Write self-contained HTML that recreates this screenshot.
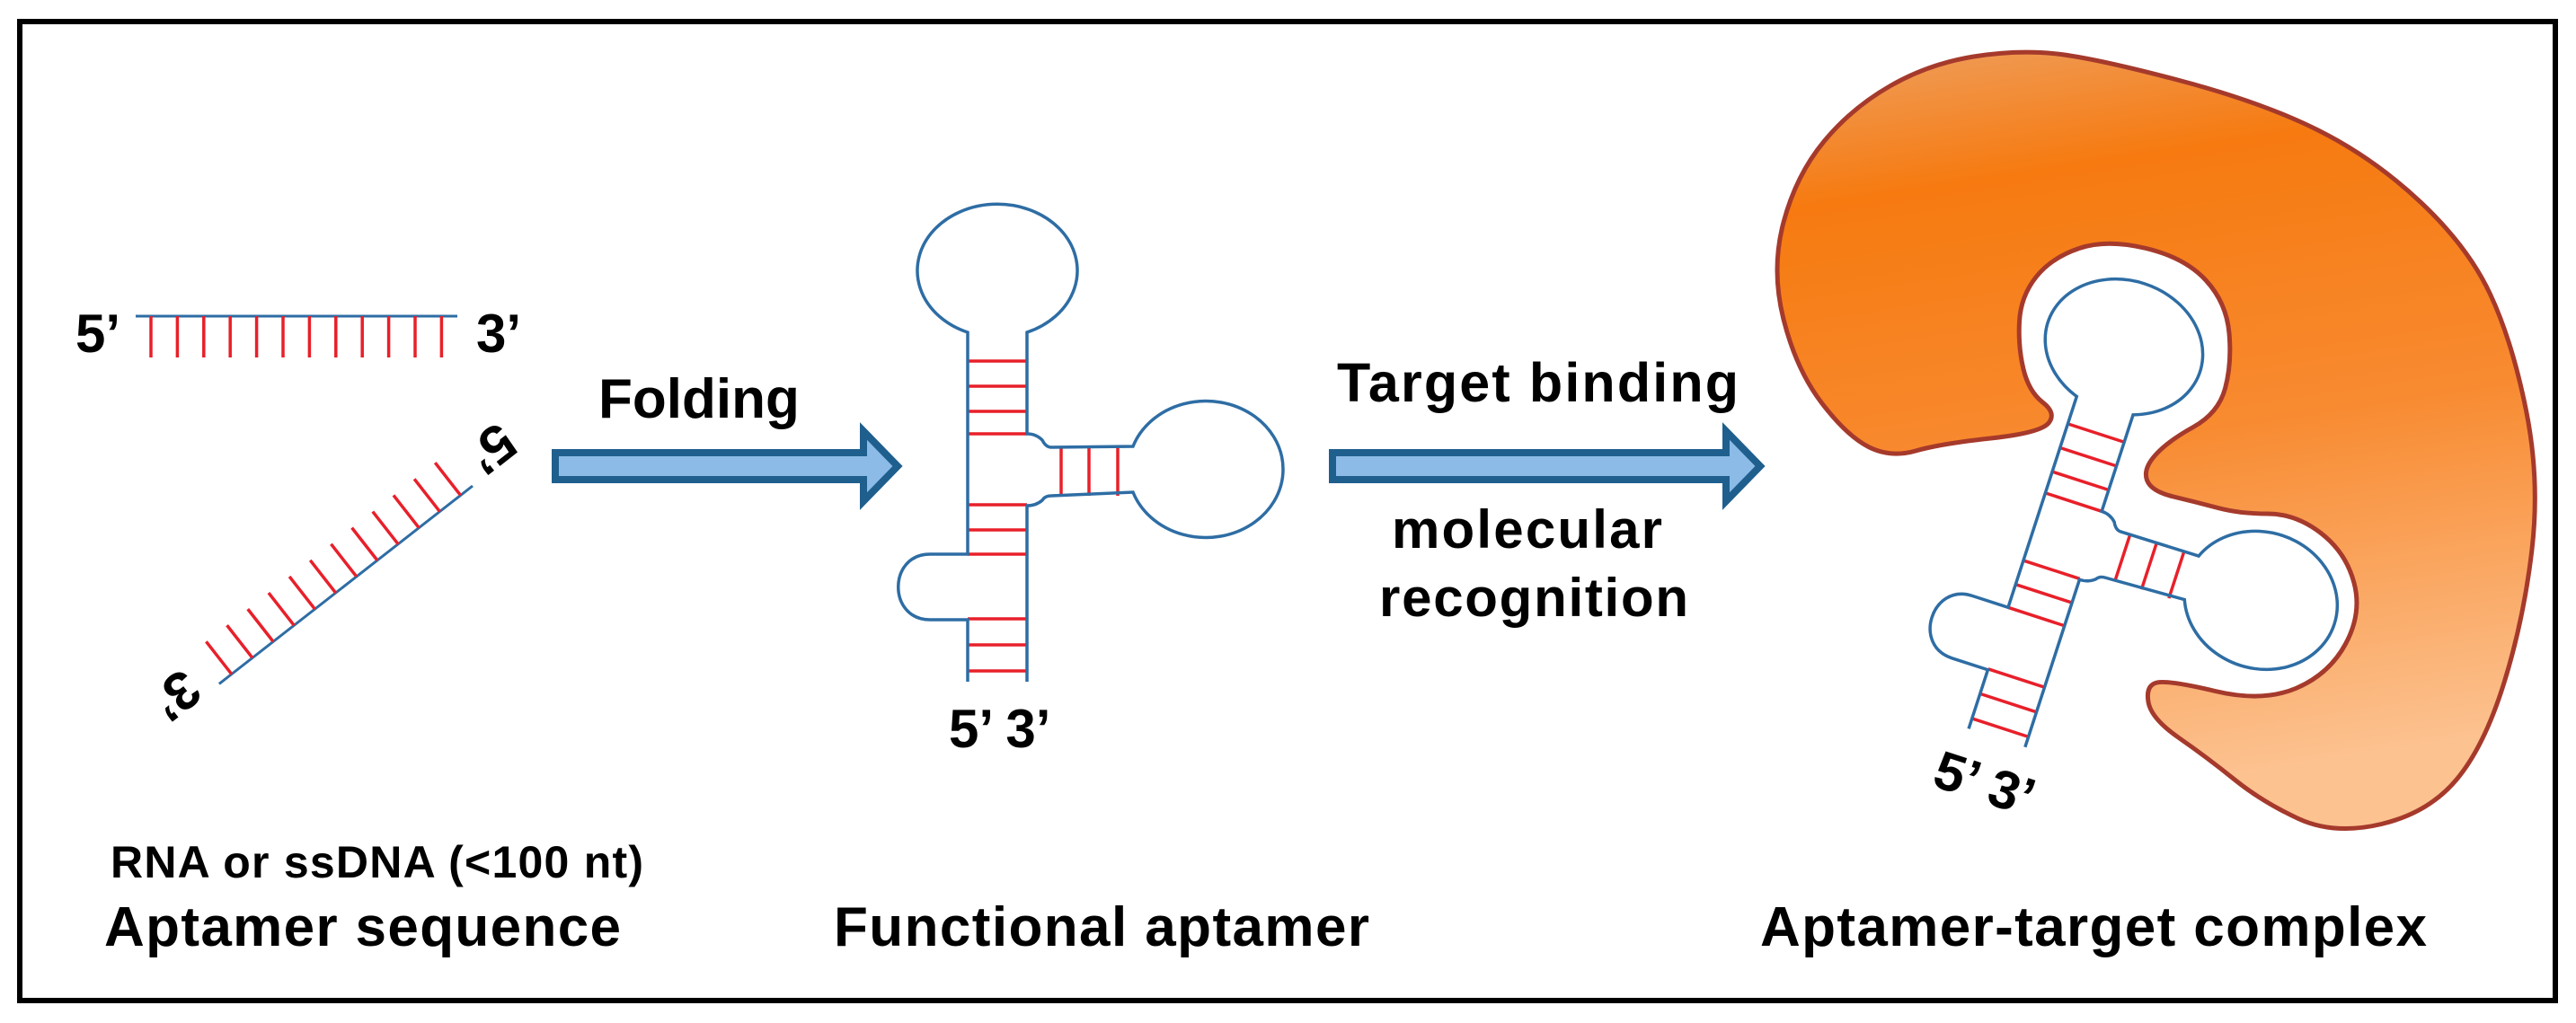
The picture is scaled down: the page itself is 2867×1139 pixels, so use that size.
<!DOCTYPE html>
<html><head><meta charset="utf-8"><style>html,body{margin:0;padding:0;background:#fff}svg{display:block}text{font-family:"Liberation Sans",Arial,sans-serif;font-weight:bold;fill:#000}</style></head>
<body>
<svg width="2867" height="1139" viewBox="0 0 2867 1139" xmlns="http://www.w3.org/2000/svg">
<defs>
<linearGradient id="og" x1="0" y1="0" x2="0.15" y2="1">
<stop offset="0" stop-color="#eea060"/>
<stop offset="0.2" stop-color="#f67a10"/>
<stop offset="0.55" stop-color="#f88a30"/>
<stop offset="1" stop-color="#fcc290"/>
</linearGradient>
<g id="apt" fill="none" stroke-width="3.5">
<g stroke="#e8202a">
<path d="M1077 402H1143M1077 430H1143M1077 458H1143M1077 483H1143M1077 562H1143M1077 590H1143M1077 617H1143M1077 689H1143M1077 718H1143M1077 747H1143M1181 498V552M1212 498V552M1244 498V552"/>
</g>
<g stroke="#2e6da4">
<path d="M1077 759L1077 690L1035 690C988 690 988 617 1035 617L1077 617L1077 370A89 74 0 1 1 1143 370L1143 483Q1153 483 1160 490Q1164 498 1170 498L1261 497A86 76 0 1 1 1261 548L1170 552Q1163 552 1160 557Q1153 563 1143 563L1143 759"/>
</g>
</g>
</defs>
<rect x="22" y="24" width="2822" height="1090" fill="none" stroke="#000" stroke-width="6"/>

<!-- top strand -->
<text x="84" y="392" font-size="60">5’</text>
<text x="530" y="392" font-size="60">3’</text>
<line x1="151" y1="352" x2="509" y2="352" stroke="#2e6da4" stroke-width="3"/>
<g stroke="#e8202a" stroke-width="3.5">
<path d="M168 352V398M197.4 352V398M226.8 352V398M256.2 352V398M285.6 352V398M315 352V398M344.4 352V398M373.8 352V398M403.2 352V398M432.6 352V398M462 352V398M491.4 352V398"/>
</g>
<!-- rotated strand -->
<g transform="translate(526,541) rotate(142) translate(-151,-352)">
<text x="84" y="392" font-size="60">5’</text>
<text x="530" y="392" font-size="60">3’</text>
<line x1="151" y1="352" x2="509" y2="352" stroke="#2e6da4" stroke-width="3"/>
<g stroke="#e8202a" stroke-width="3.5">
<path d="M168 352V398M197.4 352V398M226.8 352V398M256.2 352V398M285.6 352V398M315 352V398M344.4 352V398M373.8 352V398M403.2 352V398M432.6 352V398M462 352V398M491.4 352V398"/>
</g>
</g>

<!-- arrows -->
<polygon points="618,504 961,504 961,480 999,519 961,558 961,534 618,534" fill="#8cbbe8" stroke="#1f5f8e" stroke-width="8" stroke-linejoin="miter"/>
<polygon points="1483,504 1921,504 1921,480 1959,519 1921,558 1921,534 1483,534" fill="#8cbbe8" stroke="#1f5f8e" stroke-width="8" stroke-linejoin="miter"/>
<text x="666" y="465" font-size="62">Folding</text>
<text x="1488" y="447" font-size="61" textLength="447">Target binding</text>
<text x="1549" y="610" font-size="60" textLength="301">molecular</text>
<text x="1535" y="686" font-size="60" textLength="344">recognition</text>

<!-- functional aptamer -->
<use href="#apt"/>
<text x="1056" y="832" font-size="60">5’ 3’</text>

<!-- target blob -->
<path d="M1985 355.5Q1971 300 1985 247.5Q1999 195 2030 157.5Q2061 120 2104 95.5Q2147 71 2196.5 63Q2246 55 2289.5 60Q2333 65 2425.5 89.5Q2518 114 2580 145Q2642 176 2694.5 225.5Q2747 275 2771.5 327.5Q2796 380 2811.5 457Q2827 534 2818 611.5Q2809 689 2787 760Q2765 831 2734 868Q2703 905 2650.5 917.5Q2598 930 2558 911.5Q2518 893 2487 868Q2456 843 2425 821.5Q2394 800 2391 781.5Q2388 763 2400.5 760Q2413 757 2465.5 769.5Q2518 782 2555 766.5Q2592 751 2610.5 717Q2629 683 2620 649Q2611 615 2583 593.5Q2555 572 2524 572Q2493 572 2468.5 565.5Q2444 559 2419 553Q2394 547 2389.5 534.5Q2385 522 2399 506.5Q2413 491 2441 475.5Q2469 460 2476.5 432.5Q2484 405 2481 371Q2478 337 2455 312Q2432 287 2388.5 276.5Q2345 266 2314 276.5Q2283 287 2266 308.5Q2249 330 2247.5 358Q2246 386 2252 411Q2258 436 2273.5 448Q2289 460 2280 471Q2271 482 2215.5 488Q2160 494 2132 502Q2104 510 2079.5 497.5Q2055 485 2027 448Q1999 411 1985 355.5Z" fill="url(#og)" stroke="#a53a2c" stroke-width="5"/>
<g transform="translate(2364,386) rotate(18) translate(-1110,-301)">
<use href="#apt"/>
<text x="1056" y="832" font-size="60">5’ 3’</text>
</g>

<!-- bottom labels -->
<text x="123" y="977" font-size="50" textLength="593">RNA or ssDNA (&lt;100 nt)</text>
<text x="116" y="1053" font-size="62" textLength="575">Aptamer sequence</text>
<text x="928" y="1053" font-size="62" textLength="596">Functional aptamer</text>
<text x="1959" y="1053" font-size="62" textLength="742">Aptamer-target complex</text>
</svg>
</body></html>
